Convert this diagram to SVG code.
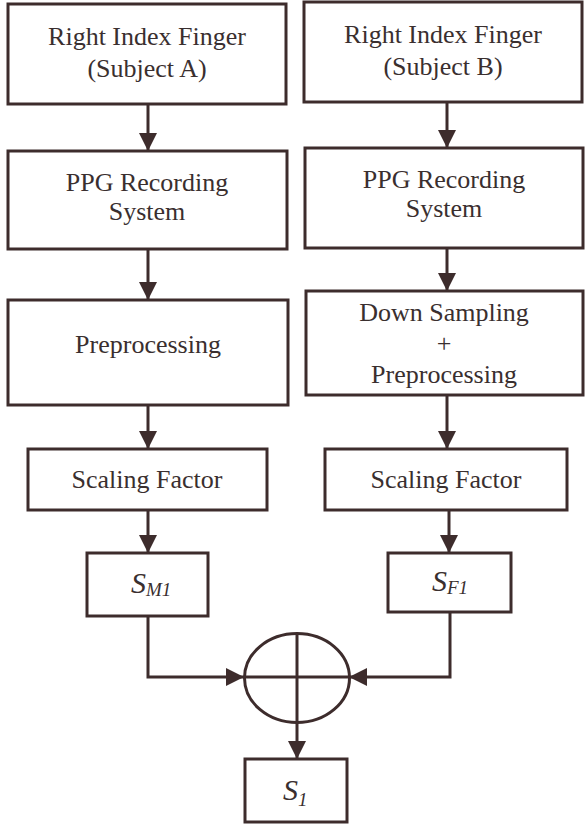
<svg xmlns="http://www.w3.org/2000/svg" width="586" height="826" viewBox="0 0 586 826">
<style>
.box{fill:#fff;stroke:#3d2c2c;stroke-width:3}
.t{font-family:"Liberation Serif","Times New Roman",serif;font-size:26px;fill:#3a2f2f;text-anchor:middle}
.s{font-family:"Liberation Serif","Times New Roman",serif;font-style:italic;fill:#3a2f2f}
.c{fill:none;stroke:#3d2c2c;stroke-width:3}
</style>
<defs>
<marker id="ah" markerUnits="userSpaceOnUse" markerWidth="18" markerHeight="18" refX="16" refY="8" orient="auto" viewBox="0 0 16 16">
<path d="M0,0 L16,8 L0,16 z" fill="#3d2c2c"/>
</marker>
</defs>
<rect width="586" height="826" fill="#fff"/>
<g id="connectors">
<line class="c" x1="148" y1="104" x2="148" y2="151" marker-end="url(#ah)"/>
<line class="c" x1="447" y1="102" x2="447" y2="148" marker-end="url(#ah)"/>
<line class="c" x1="148" y1="249" x2="148" y2="300" marker-end="url(#ah)"/>
<line class="c" x1="447" y1="248" x2="447" y2="291" marker-end="url(#ah)"/>
<line class="c" x1="148" y1="405" x2="148" y2="449" marker-end="url(#ah)"/>
<line class="c" x1="447" y1="395" x2="447" y2="449" marker-end="url(#ah)"/>
<line class="c" x1="148" y1="510" x2="148" y2="553" marker-end="url(#ah)"/>
<line class="c" x1="449" y1="510" x2="449" y2="553" marker-end="url(#ah)"/>
<path class="c" d="M148,616 V677 H244" marker-end="url(#ah)"/>
<path class="c" d="M450,612 V677 H349" marker-end="url(#ah)"/>
<line class="c" x1="297" y1="723" x2="297" y2="759" marker-end="url(#ah)"/>
</g>
<g id="fingerA">
<rect class="box" x="8" y="4" width="278" height="100"/>
<text class="t" x="147" y="45">Right Index Finger</text>
<text class="t" x="147" y="77">(Subject A)</text>
</g>
<g id="fingerB">
<rect class="box" x="304" y="2" width="278" height="100"/>
<text class="t" x="443" y="43">Right Index Finger</text>
<text class="t" x="443" y="75">(Subject B)</text>
</g>
<g id="ppgA">
<rect class="box" x="8" y="151" width="279" height="98"/>
<text class="t" x="147" y="191">PPG Recording</text>
<text class="t" x="147" y="220">System</text>
</g>
<g id="ppgB">
<rect class="box" x="305" y="148" width="278" height="100"/>
<text class="t" x="444" y="188">PPG Recording</text>
<text class="t" x="444" y="217">System</text>
</g>
<g id="preprocA">
<rect class="box" x="8" y="300" width="280" height="105"/>
<text class="t" x="148" y="353">Preprocessing</text>
</g>
<g id="preprocB">
<rect class="box" x="306" y="291" width="277" height="104"/>
<text class="t" x="444" y="321">Down Sampling</text>
<text class="t" x="444" y="352">+</text>
<text class="t" x="444" y="383">Preprocessing</text>
</g>
<g id="scaleA">
<rect class="box" x="28" y="449" width="239" height="61"/>
<text class="t" x="147" y="488">Scaling Factor</text>
</g>
<g id="scaleB">
<rect class="box" x="325" y="449" width="242" height="61"/>
<text class="t" x="446" y="488">Scaling Factor</text>
</g>
<g id="SM1">
<rect class="box" x="87" y="553" width="121" height="63"/>
<text class="s" x="131" y="593" font-size="30">S<tspan font-size="19" dy="3">M1</tspan></text>
</g>
<g id="SF1">
<rect class="box" x="388" y="553" width="123" height="59"/>
<text class="s" x="432" y="591" font-size="30">S<tspan font-size="19" dy="3">F1</tspan></text>
</g>
<g id="sum">
<ellipse class="c" cx="297" cy="678" rx="52.5" ry="44.5"/>
<line class="c" x1="244" y1="677" x2="349" y2="677"/>
<line class="c" x1="297" y1="634" x2="297" y2="723"/>
</g>
<g id="S1">
<rect class="box" x="245" y="759" width="102" height="63"/>
<text class="s" x="283" y="800" font-size="30">S<tspan font-size="19" dy="6">1</tspan></text>
</g>
</svg>
